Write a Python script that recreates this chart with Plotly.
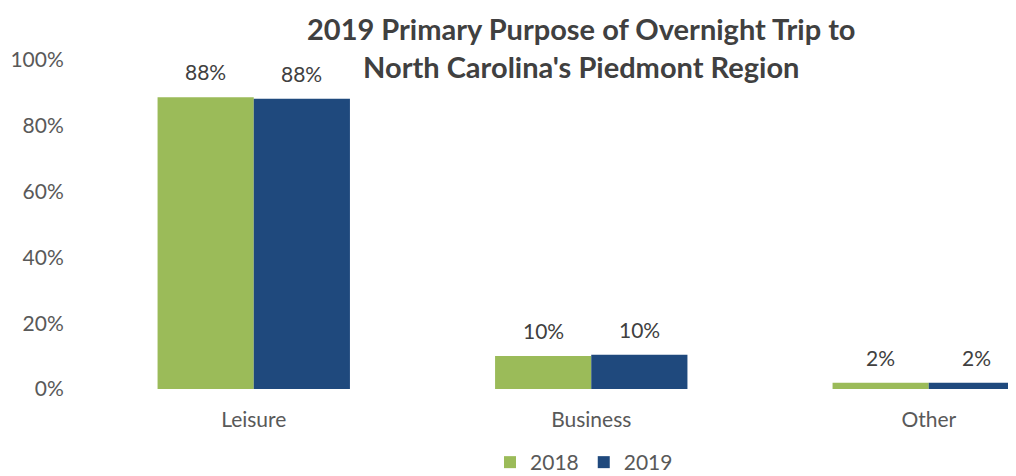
import plotly.graph_objects as go

# データ
categories = ["Leisure", "Business", "Other"]
share_2018 = [0.887, 0.100, 0.019]
share_2019 = [0.882, 0.104, 0.019]
labels_2018 = ["88%", "10%", "2%"]
labels_2019 = ["88%", "10%", "2%"]

fig = go.Figure()

fig.add_trace(go.Bar(
    x=categories, y=share_2018, name="2018",
    marker=dict(color="#9BBB59", line=dict(width=0)),
))
fig.add_trace(go.Bar(
    x=categories, y=share_2019, name="2019",
    marker=dict(color="#1F497D", line=dict(width=0)),
))

# データラベル（バーから少し離して配置）
for vals, labels, shift in [(share_2018, labels_2018, -48), (share_2019, labels_2019, 48)]:
    for cat, v, t in zip(categories, vals, labels):
        fig.add_annotation(
            x=cat, y=v, text=t, showarrow=False,
            xanchor="center", yanchor="bottom", xshift=shift, yshift=11,
            font=dict(size=21, color="#404040"),
        )

# タイトル（注釈で配置）
fig.add_annotation(
    text="<b>2019 Primary Purpose of Overnight Trip to<br>North Carolina's Piedmont Region</b>",
    xref="paper", yref="paper", x=0.533, y=1.0395,
    xanchor="center", yanchor="middle", showarrow=False,
    font=dict(size=29, color="#404040"),
)

# ページ余白(8px)を考慮してサイズを調整
fig.update_layout(
    width=1008, height=476,
    barmode="group",
    bargap=0.43, bargroupgap=0,
    plot_bgcolor="white", paper_bgcolor="white",
    font=dict(family="Lato, Open Sans, sans-serif", size=21, color="#595959"),
    margin=dict(l=77, r=0, t=52, b=95),
    xaxis=dict(
        range=[-0.5, 2.2585], automargin=False,
        showline=False, showgrid=False,
        ticks="outside", ticklen=12, tickcolor="rgba(0,0,0,0)",
        tickfont=dict(size=21, color="#595959"),
    ),
    yaxis=dict(
        range=[0, 1], dtick=0.2, tickformat=".0%", automargin=False,
        showgrid=False, zeroline=False, showline=False,
        ticks="outside", ticklen=16, tickcolor="rgba(0,0,0,0)",
        tickfont=dict(size=21, color="#595959"),
    ),
    legend=dict(
        orientation="h", x=0.536, xanchor="center", y=-0.2857, yanchor="bottom",
        font=dict(size=21, color="#595959"),
        itemwidth=30,
    ),
    showlegend=True,
)

fig.write_html("out.html")
